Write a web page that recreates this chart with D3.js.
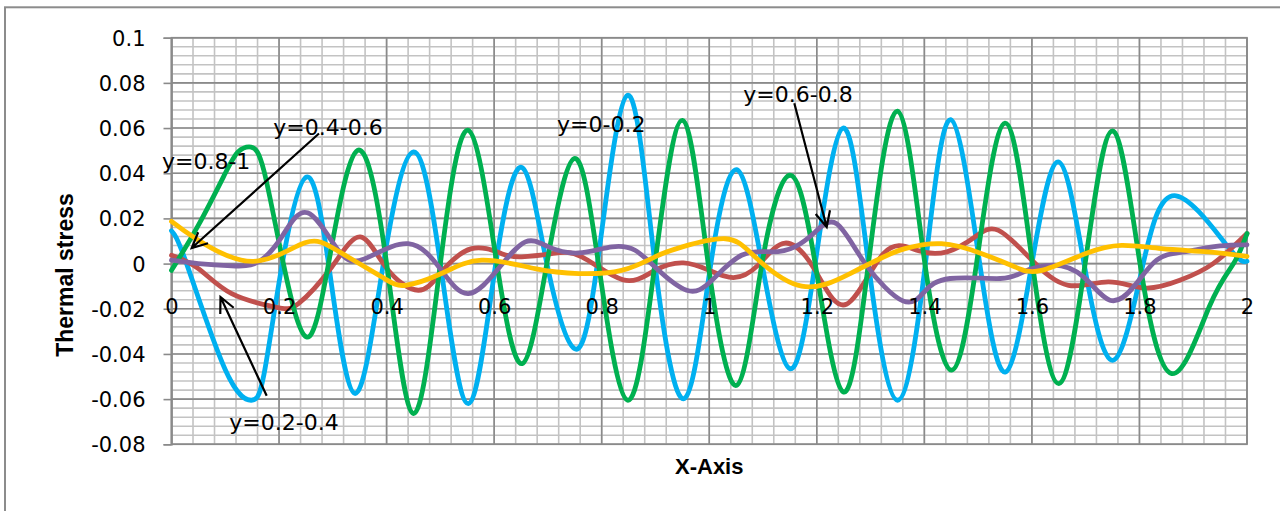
<!DOCTYPE html>
<html><head><meta charset="utf-8">
<script src="https://cdn.jsdelivr.net/npm/d3@7"></script>
<style>body{margin:0;background:#fff}svg{display:block}</style>
</head><body>
<svg id="chart" width="1280" height="511"></svg>
<script>
// ---------- data ----------
const xTicks = [0, 0.2, 0.4, 0.6, 0.8, 1, 1.2, 1.4, 1.6, 1.8, 2];
const xTickLabels = ["0", "0.2", "0.4", "0.6", "0.8", "1", "1.2", "1.4", "1.6", "1.8", "2"];
const yTicks = [-0.08, -0.06, -0.04, -0.02, 0, 0.02, 0.04, 0.06, 0.08, 0.1];
const yTickLabels = ["-0.08", "-0.06", "-0.04", "-0.02", "0", "0.02", "0.04", "0.06", "0.08", "0.1"];

const seriesNames = ["y=0-0.2", "y=0.2-0.4", "y=0.4-0.6", "y=0.6-0.8", "y=0.8-1"];

const blueX = [0, 0.028, 0.1, 0.148, 0.172, 0.206, 0.251, 0.292, 0.341, 0.394, 0.450, 0.5, 0.552, 0.603, 0.652, 0.698, 0.749, 0.792, 0.848, 0.899, 0.954, 1.003, 1.051, 1.098, 1.150, 1.197, 1.249, 1.296, 1.350, 1.402, 1.449, 1.503, 1.551, 1.600, 1.649, 1.697, 1.751, 1.807, 1.868, 1.965, 2.0];
const blueY = [0.0145, 0, -0.047, -0.0605, -0.049, 0, 0.0383, 0, -0.0575, 0, 0.0494, 0, -0.062, 0, 0.0425, 0, -0.0376, 0, 0.0745, 0, -0.0597, 0, 0.0416, 0, -0.0465, 0, 0.060, 0, -0.0605, 0, 0.0637, 0, -0.048, 0, 0.045, 0, -0.0428, 0, 0.030, 0.0073, 0.001];

const redX = [0, 0.05, 0.112, 0.192, 0.236, 0.298, 0.351, 0.40, 0.459, 0.502, 0.558, 0.614, 0.651, 0.707, 0.763, 0.84, 0.899, 0.952, 1.0, 1.045, 1.091, 1.141, 1.197, 1.255, 1.324, 1.386, 1.442, 1.494, 1.538, 1.600, 1.668, 1.742, 1.81, 1.875, 1.937, 2.0];
const redY = [0.0037, -0.0022, -0.0133, -0.0192, -0.0177, -0.0015, 0.0118, -0.002, -0.0118, -0.0037, 0.0066, 0.0044, 0.003, 0.0044, 0.003, -0.0072, -0.003, 0.0003, -0.003, -0.0062, -0.0007, 0.0091, -0.003, -0.018, 0.0044, 0.0059, 0.0052, 0.0118, 0.0147, 0.0015, -0.0096, -0.0081, -0.0108, -0.0074, 0, 0.0133];

const greenX = [0, 0.05, 0.1, 0.124, 0.148, 0.172, 0.208, 0.251, 0.292, 0.346, 0.400, 0.450, 0.500, 0.552, 0.605, 0.652, 0.698, 0.749, 0.794, 0.848, 0.899, 0.950, 0.998, 1.051, 1.098, 1.150, 1.197, 1.249, 1.296, 1.350, 1.401, 1.451, 1.497, 1.550, 1.601, 1.650, 1.699, 1.750, 1.801, 1.860, 1.93, 1.975, 2.0];
const greenY = [-0.003, 0.017, 0.040, 0.0495, 0.0516, 0.041, 0, -0.0325, 0, 0.0501, 0, -0.0664, 0, 0.059, 0, -0.0443, 0, 0.0465, 0, -0.0605, 0, 0.0634, 0, -0.0539, 0, 0.0391, 0, -0.0568, 0, 0.0675, 0, -0.0472, 0, 0.0622, 0, -0.0531, 0, 0.0587, 0, -0.0487, -0.019, 0, 0.0133];

const purpleX = [0, 0.05, 0.112, 0.161, 0.205, 0.253, 0.310, 0.360, 0.440, 0.502, 0.552, 0.608, 0.658, 0.701, 0.757, 0.819, 0.862, 0.899, 0.958, 1.005, 1.060, 1.116, 1.159, 1.197, 1.237, 1.29, 1.36, 1.40, 1.448, 1.541, 1.584, 1.640, 1.696, 1.745, 1.789, 1.832, 1.882, 1.95, 2.0];
const purpleY = [0.0015, 0.0, -0.001, 0.0007, 0.0118, 0.0225, 0.0059, 0.0022, 0.0088, -0.003, -0.0133, -0.0022, 0.0096, 0.0074, 0.0047, 0.0074, 0.0059, -0.0015, -0.0118, -0.0074, 0.0037, 0.0052, 0.0074, 0.014, 0.0176, 0.0, -0.0165, -0.0125, -0.0066, -0.0066, -0.0037, -0.0007, -0.0059, -0.0162, -0.0103, 0.0015, 0.0052, 0.0078, 0.0083];

const yellowX = [0, 0.05, 0.152, 0.248, 0.31, 0.391, 0.435, 0.502, 0.577, 0.676, 0.757, 0.837, 0.899, 0.95, 1.03, 1.085, 1.172, 1.262, 1.324, 1.364, 1.432, 1.507, 1.569, 1.618, 1.699, 1.767, 1.841, 1.928, 2.0];
const yellowY = [0.0187, 0.0103, 0.001, 0.0092, 0.0055, -0.0059, -0.0096, -0.0044, 0.0015, -0.0022, -0.0044, -0.003, 0.003, 0.0074, 0.011, 0.003, -0.010, -0.0044, 0.0029, 0.0066, 0.0088, 0.0044, -0.0015, -0.003, 0.0044, 0.0081, 0.0066, 0.0052, 0.0032];

// annotation labels (data coordinates) and arrows (tail -> tip, data coordinates)
const annotationTexts = ["y=0.8-1", "y=0.4-0.6", "y=0-0.2", "y=0.6-0.8", "y=0.2-0.4"];
const annotationAt = [[-0.0177, 0.0417], [0.1893, 0.0568], [0.7169, 0.0583], [1.0633, 0.0716], [0.1075, -0.0738]];
const arrowTails = [[0.2743, 0.0576], [0.1770, -0.0585], [1.1582, 0.0710]];
const arrowTips = [[0.0376, 0.0069], [0.0911, -0.0148], [1.2184, 0.0162]];

// ---------- layout ----------
const plot = {left: 171.5, right: 1247, top: 37.7, bottom: 444.3};
const svg = d3.select("#chart");

const x = d3.scaleLinear().domain([0, 2]).range([plot.left, plot.right]);
const y = d3.scaleLinear().domain([-0.08, 0.1]).range([plot.bottom, plot.top]);

// outer chart border
svg.append("rect").attr("x", 5).attr("y", 7.3).attr("width", 1290).attr("height", 600)
  .attr("fill", "#fff").attr("stroke", "#8c8c8c").attr("stroke-width", 2);

// grid
const g = svg.append("g");
const minorX = d3.range(0, 51).map(i => i * 0.04);
const minorY = d3.range(0, 46).map(i => -0.08 + i * 0.004);
g.selectAll(".mx").data(minorX).join("line")
  .attr("x1", d => x(d)).attr("x2", d => x(d)).attr("y1", plot.top).attr("y2", plot.bottom)
  .attr("stroke", "#c3c3c3").attr("stroke-width", 1.6);
g.selectAll(".my").data(minorY).join("line")
  .attr("y1", d => y(d)).attr("y2", d => y(d)).attr("x1", plot.left).attr("x2", plot.right)
  .attr("stroke", "#c3c3c3").attr("stroke-width", 1.6);
g.selectAll(".Mx").data(xTicks).join("line")
  .attr("x1", d => x(d)).attr("x2", d => x(d)).attr("y1", plot.top).attr("y2", plot.bottom)
  .attr("stroke", "#8a8a8a").attr("stroke-width", 1.6);
g.selectAll(".My").data(yTicks).join("line")
  .attr("y1", d => y(d)).attr("y2", d => y(d)).attr("x1", plot.left).attr("x2", plot.right)
  .attr("stroke", "#8a8a8a").attr("stroke-width", 1.6);
svg.append("rect").attr("x", plot.left).attr("y", plot.top)
  .attr("width", plot.right - plot.left).attr("height", plot.bottom - plot.top)
  .attr("fill", "none").attr("stroke", "#8a8a8a").attr("stroke-width", 1.6);

// y axis
const yAxis = svg.append("g").attr("transform", `translate(${plot.left},0)`)
  .call(d3.axisLeft(y).tickValues(yTicks).tickFormat((d, i) => yTickLabels[i]).tickSize(8).tickPadding(18));
yAxis.select(".domain").attr("stroke", "#8a8a8a").attr("stroke-width", 1.6);
yAxis.selectAll(".tick line").attr("stroke", "#8a8a8a").attr("stroke-width", 1.6);
yAxis.selectAll("text").attr("font-family", "DejaVu Sans").attr("font-size", 21)
  .attr("fill", "#000").attr("dy", "0.36em");

// series
const line = d3.line().x(d => x(d[0])).y(d => y(d[1])).curve(d3.curveNatural);
const series = [
  {xs: blueX, ys: blueY, color: "#00B0F0"},
  {xs: redX, ys: redY, color: "#C0504D"},
  {xs: greenX, ys: greenY, color: "#00B050"},
  {xs: purpleX, ys: purpleY, color: "#8064A2"},
  {xs: yellowX, ys: yellowY, color: "#FFC000"}
];
svg.append("g").selectAll("path").data(series).join("path")
  .attr("d", s => line(s.xs.map((v, i) => [v, s.ys[i]])))
  .attr("fill", "none").attr("stroke", s => s.color).attr("stroke-width", 4.8)
  .attr("stroke-linejoin", "round").attr("stroke-linecap", "round");

// x axis (crosses at y = 0), labels below, drawn over the series
const xAxis = svg.append("g").attr("transform", `translate(0,${y(0)})`)
  .call(d3.axisBottom(x).tickValues(xTicks).tickFormat((d, i) => xTickLabels[i]).tickSize(0));
xAxis.select(".domain").remove();
xAxis.selectAll("text").attr("font-family", "DejaVu Sans").attr("font-size", 21)
  .attr("fill", "#000").attr("y", 50.7).attr("dy", null);

// annotation labels
svg.append("g").selectAll("text").data(annotationTexts).join("text")
  .attr("x", (d, i) => x(annotationAt[i][0])).attr("y", (d, i) => y(annotationAt[i][1]))
  .attr("font-family", "DejaVu Sans").attr("font-size", 22).attr("fill", "#000")
  .text(d => d);

// arrows
const arrows = svg.append("g");
arrowTails.forEach((t, i) => {
  const x0 = x(t[0]), y0 = y(t[1]);
  const x1 = x(arrowTips[i][0]), y1 = y(arrowTips[i][1]);
  const ang = Math.atan2(y1 - y0, x1 - x0);
  const L = 17, a = 0.45;
  const p1 = [x1 - L * Math.cos(ang - a), y1 - L * Math.sin(ang - a)];
  const p2 = [x1 - L * Math.cos(ang + a), y1 - L * Math.sin(ang + a)];
  arrows.append("path")
    .attr("d", `M${x0},${y0}L${x1},${y1}M${p1[0]},${p1[1]}L${x1},${y1}L${p2[0]},${p2[1]}`)
    .attr("fill", "none").attr("stroke", "#000").attr("stroke-width", 2.2);
});

// axis titles
svg.append("text").attr("transform", `translate(73.3,${(191.7 + 358.3) / 2}) rotate(-90)`)
  .attr("text-anchor", "middle").attr("font-family", "Liberation Sans").attr("font-weight", "bold")
  .attr("font-size", 23).attr("fill", "#000").text("Thermal stress");
svg.append("text").attr("x", (plot.left + plot.right) / 2).attr("y", 474)
  .attr("text-anchor", "middle").attr("font-family", "Liberation Sans").attr("font-weight", "bold")
  .attr("font-size", 22).attr("fill", "#000").text("X-Axis");
</script>
</body></html>
